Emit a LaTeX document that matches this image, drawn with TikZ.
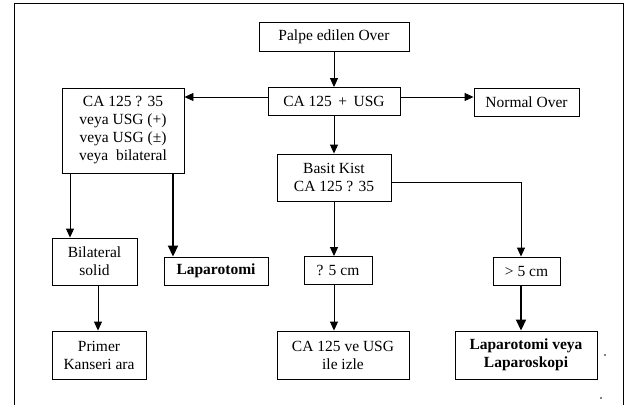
\documentclass[tikz,border=0pt]{standalone}
\usepackage{fontspec}
\setmainfont{Liberation Serif}
\usetikzlibrary{arrows.meta}
\begin{document}
\begin{tikzpicture}[x=1pt,y=-1pt,
  box/.style={draw,line width=0.9pt,inner sep=0pt,align=center,
    font=\fontsize{15.5}{18}\selectfont},
  arr/.style={line width=0.9pt,-{Triangle[length=9pt,width=8pt]}},
  heavyarr/.style={line width=1.8pt,-{Triangle[length=11pt,width=10pt]}},
]
\useasboundingbox (0,0) rectangle (624,405);
% open frame
\draw[line width=1pt] (14,405) -- (14,3) -- (623,3) -- (623,405);

% boxes
\node[box,minimum width=150pt,minimum height=29pt] (palpe) at (334,36.5) {Palpe edilen Over};
\node[box,minimum width=132pt,minimum height=28pt] (causg) at (334,101.5) {CA 125 \,+\, USG};
\node[box,minimum width=105pt,minimum height=28pt] (normal) at (526.5,102) {Normal Over};
\node[box,minimum width=122pt,minimum height=85pt] (lbox) at (123,130.5)
  {CA 125 ? 35\\veya USG (+)\\veya USG (±)\\veya~ bilateral};
\node[box,minimum width=114pt,minimum height=47pt] (basit) at (334,177.5) {Basit Kist\\CA 125 ? 35};
\node[box,minimum width=85pt,minimum height=47pt] (bil) at (94.5,261.5) {Bilateral\\solid};
\node[box,minimum width=104pt,minimum height=28pt,font=\fontsize{15.5}{18}\selectfont\bfseries] (lap) at (216,271) {Laparotomi};
\node[box,minimum width=68pt,minimum height=28pt] (le5) at (338,270.5) {? 5 cm};
\node[box,minimum width=67pt,minimum height=28pt] (gt5) at (526.5,271) {> 5 cm};
\node[box,minimum width=94pt,minimum height=48pt] (primer) at (99,355) {Primer\\Kanseri ara};
\node[box,minimum width=132pt,minimum height=48pt] (izle) at (343,355) {CA 125 ve USG\\ile izle};
\node[box,minimum width=142pt,minimum height=48pt,font=\fontsize{15.5}{18}\selectfont\bfseries] (lapveya) at (526,355)
  {Laparotomi veya\\Laparoskopi};

% connectors
\coordinate (bend) at (521,182);
\draw[arr] (palpe) -- (causg);
\draw[arr] (causg.west |- 0,97) -- (lbox.east |- 0,97);
\draw[arr] (causg.east |- 0,97) -- (normal.west |- 0,97);
\draw[arr] (causg) -- (basit);
\draw[arr] (lbox.south -| 70,0) -- (bil.north -| 70,0);
\draw[heavyarr] (lbox.south -| 173,0) -- (lap.north -| 173,0);
\draw[arr] (bil.south -| 98,0) -- (primer.north -| 98,0);
\draw[arr] (basit.south -| 334,0) -- (le5.north -| 334,0);
\draw[arr] (le5.south -| 334,0) -- (izle.north -| 334,0);
\draw[arr] (basit.east |- bend) -- (bend) -- (gt5.north -| bend);
\draw[heavyarr] (gt5.south -| bend) -- (lapveya.north -| bend);

% specks
\fill (605,355) circle (0.8);
\fill (601,398) circle (0.8);
\end{tikzpicture}
\end{document}
